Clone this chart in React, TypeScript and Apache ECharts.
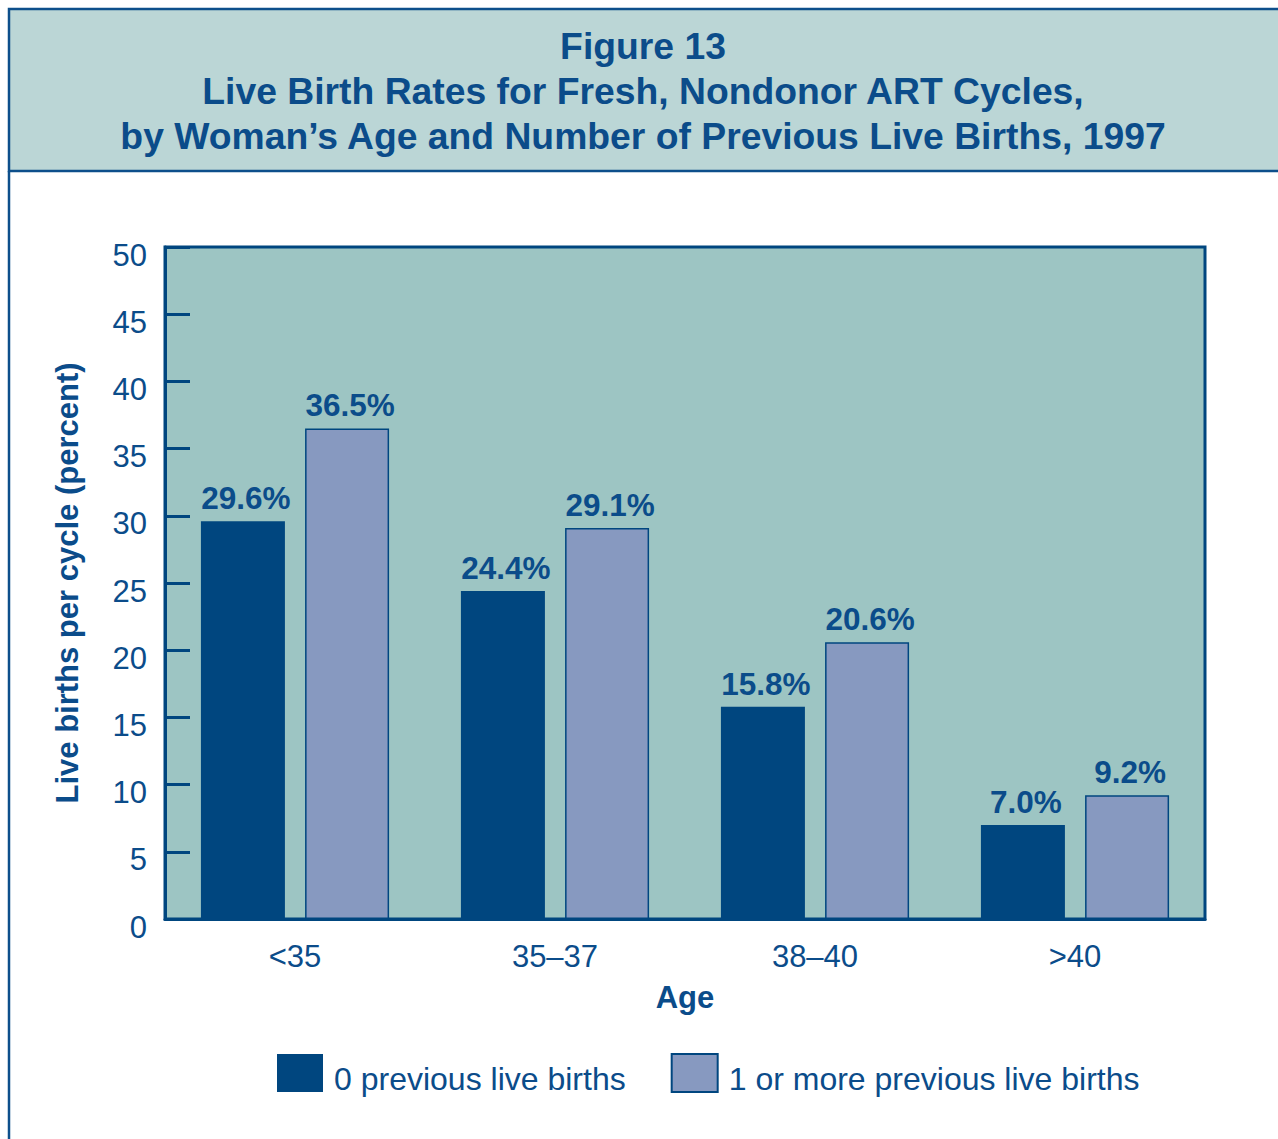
import React, { useEffect, useRef } from "react";
import * as echarts from "echarts";

const categories = ["<35", "35–37", "38–40", ">40"];
const zeroPrev = [29.6, 24.4, 15.8, 7.0];
const onePlusPrev = [36.5, 29.1, 20.6, 9.2];
const seriesNames = ["0 previous live births", "1 or more previous live births"];
const titleLines = [
  "Figure 13",
  "Live Birth Rates for Fresh, Nondonor ART Cycles,",
  "by Woman’s Age and Number of Previous Live Births, 1997",
];

const DARK = "#00467F";
const LIGHT = "#8799C0";
const TEXT = "#0B4C8A";
const FONT = "'Liberation Sans', Arial, sans-serif";

export default function App() {
  const ref = useRef<HTMLDivElement>(null);
  useEffect(() => {
    if (!ref.current) return;
    const chart = echarts.init(ref.current, null, { renderer: "svg" });
    const labelCfg = {
      show: true,
      position: "top",
      distance: 7,
      offset: [3, 0],
      formatter: (p: any) => p.value.toFixed(1) + "%",
      color: TEXT,
      fontFamily: FONT,
      fontWeight: "bold",
      fontSize: 31.5,
    };
    chart.setOption({
      animation: false,
      backgroundColor: "#ffffff",
      textStyle: { fontFamily: FONT },
      graphic: [
        {
          type: "rect",
          shape: { x: 9, y: 9, width: 1320, height: 162 },
          style: { fill: "#BBD6D6", stroke: "#0D4F8B", lineWidth: 2.5 },
          z: 0,
        },
        {
          type: "line",
          shape: { x1: 9, y1: 171, x2: 9, y2: 1139 },
          style: { stroke: "#0D4F8B", lineWidth: 2.5 },
        },
        {
          type: "text",
          x: 643,
          y: 23,
          style: {
            text: titleLines.join("\n"),
            textAlign: "center",
            fill: TEXT,
            font: `bold 37.3px ${FONT}`,
            lineHeight: 45,
          },
          z: 5,
        },
      ],
      grid: {
        left: 165,
        right: 73,
        top: 247,
        bottom: 220,
        show: true,
        backgroundColor: "#9DC5C3",
        borderColor: DARK,
        borderWidth: 3,
        containLabel: false,
      },
      legend: {
        left: 277,
        top: 1053,
        padding: 0,
        icon: "rect",
        itemWidth: 46,
        itemHeight: 38,
        itemGap: 45,
        formatter: (name: string) => "{t|" + name + "}",
        textStyle: {
          color: TEXT,
          fontSize: 32,
          fontFamily: FONT,
          rich: {
            t: {
              color: TEXT,
              fontSize: 32,
              fontFamily: FONT,
              padding: [12, 0, 0, 6],
            },
          },
        },
        data: seriesNames,
      },
      xAxis: {
        type: "category",
        data: categories,
        name: "Age",
        nameLocation: "middle",
        nameGap: 63,
        nameTextStyle: { color: TEXT, fontSize: 31, fontWeight: "bold", fontFamily: FONT },
        axisLine: { show: true, lineStyle: { color: DARK, width: 3 } },
        axisTick: { show: false },
        axisLabel: { color: TEXT, fontSize: 31, fontFamily: FONT, margin: 22 },
      },
      yAxis: {
        type: "value",
        min: 0,
        max: 50,
        interval: 5,
        name: "Live births per cycle (percent)",
        nameLocation: "middle",
        nameGap: 82,
        nameTextStyle: { color: TEXT, fontSize: 31, fontWeight: "bold", fontFamily: FONT },
        axisLine: { show: true, lineStyle: { color: DARK, width: 3 } },
        axisTick: { show: true, inside: true, length: 25, lineStyle: { color: DARK, width: 3 } },
        splitLine: { show: false },
        axisLabel: {
          color: TEXT,
          fontSize: 31,
          fontFamily: FONT,
          margin: 18,
          verticalAlign: "top",
          lineHeight: 16,
        },
      },
      series: [
        {
          name: seriesNames[0],
          type: "bar",
          data: zeroPrev,
          barWidth: 84,
          barGap: "24%",
          itemStyle: { color: DARK },
          label: labelCfg,
        },
        {
          name: seriesNames[1],
          type: "bar",
          data: onePlusPrev,
          barWidth: 84,
          itemStyle: { color: LIGHT, borderColor: DARK, borderWidth: 1.5 },
          label: labelCfg,
        },
      ],
    });
    return () => chart.dispose();
  }, []);
  return (
    <div
      ref={ref}
      style={{ position: "fixed", left: 0, top: 0, width: 1278, height: 1139 }}
    />
  );
}
